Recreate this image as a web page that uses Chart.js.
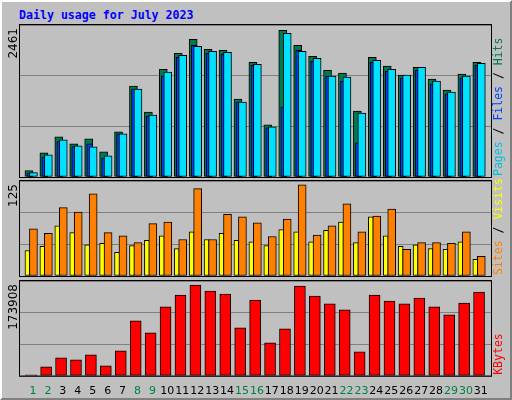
<!DOCTYPE html>
<html><head><meta charset="utf-8">
<script src="https://cdn.jsdelivr.net/npm/chart.js@4/dist/chart.umd.min.js"></script>
<style>
html,body{margin:0;padding:0;}
body{width:512px;height:400px;position:relative;background:#c0c0c0;overflow:hidden;}
#frame{position:absolute;left:0;top:0;width:508px;height:396px;border-left:2px solid #fff;border-top:2px solid #fff;border-right:2px solid #808080;border-bottom:2px solid #808080;}
#title{position:absolute;left:19px;top:8px;font:bold 11.6px "DejaVu Sans Mono",monospace;color:#0000ff;}
canvas{position:absolute;left:0;top:0;}
</style></head><body>
<div id="frame"></div>
<div id="title">Daily usage for July 2023</div>
<canvas id="c1" width="512" height="400"></canvas>
<canvas id="c2" width="512" height="400"></canvas>
<canvas id="c3" width="512" height="400"></canvas>
<script>
const days = [1,2,3,4,5,6,7,8,9,10,11,12,13,14,15,16,17,18,19,20,21,22,23,24,25,26,27,28,29,30,31];
const weekendDays = [1,2,8,9,15,16,22,23,29,30];
const hits  = [102,392,650,537,618,408,730,1471,1053,1745,2003,2229,2067,2051,1262,1858,843,2374,2132,1955,1729,1681,1069,1939,1794,1649,1777,1584,1407,1665,1858];
const files = [70,360,601,505,489,344,698,1423,1004,1697,1971,2116,2035,2019,1214,1826,811,2325,2035,1923,1632,1616,1036,1890,1745,1649,1777,1552,1375,1632,1842];
const pages = [64,317,575,494,537,306,698,1423,988,1638,1939,2132,2003,1987,1214,1810,795,1138,2051,1874,1632,1552,553,1858,1713,1600,1729,1504,1343,1600,1810];
const visits = [33.5,39,66,57,41,43,31,40,47,53,36,58,48,56,47,45,40,61,58,45,60,71,44,78,53,39,41,36,35,45,22];
const sites  = [62,56,90,84,108,57,53,44,69,71,48,115,48,81,78,70,52,75,120,54,66,95,58,79,88,35,44,44,43,58,26];
const kbytes = [2000,16475,32950,29290,38440,18300,45760,100680,78720,126300,148280,166580,155600,150100,87870,139120,60400,86040,164750,146450,131800,120820,43930,148280,137300,131800,142790,126300,111670,133630,153770];
const maxHits = 2461, maxSites = 125, maxKB = 173908;

const pts = (arr, off) => arr.map((v,i)=>({x:days[i]+off, y:v}));
const boxPlugin = {
  id:'box',
  afterDraw(chart){
    const {ctx, chartArea:a} = chart;
    ctx.save();
    ctx.strokeStyle='#000'; ctx.lineWidth=1;
    ctx.strokeRect(a.left-0.5, a.top-0.5, a.right-a.left+1, a.bottom-a.top+1);
    const o = chart.options.plugins.box;
    ctx.font = '12px "DejaVu Sans"';
    ctx.fillStyle='#000';
    ctx.translate(14, a.top+3);
    ctx.rotate(-Math.PI/2);
    ctx.textAlign='right'; ctx.textBaseline='middle';
    ctx.fillText(o.maxLabel, 0, 0);
    ctx.restore();
    ctx.save();
    ctx.font = '11.5px "DejaVu Sans Mono"';
    ctx.translate(499, a.bottom-1);
    ctx.rotate(-Math.PI/2);
    ctx.textAlign='left'; ctx.textBaseline='middle';
    let x=0;
    for(const [t,c] of o.parts){ ctx.fillStyle=c; ctx.fillText(t,x,0); x+=ctx.measureText(t).width; }
    ctx.restore();
  }
};
function yScale(max){
  return {min:0,max:max,display:true,
    ticks:{display:false},
    afterBuildTicks(s){ s.ticks=[0,max/3,2*max/3,max].map(v=>({value:v})); },
    grid:{color:'#808080',lineWidth:1,drawTicks:false},
    border:{display:false}};
}
function xScale(showTicks){
  const s = {type:'linear',offset:false,min:0.13,max:31.68,grid:{display:false,drawTicks:false},border:{display:false}};
  if(showTicks){
    s.display=true;
    s.afterBuildTicks = sc => { sc.ticks = days.map(d=>({value:d})); };
    s.ticks={autoSkip:false,maxRotation:0,minRotation:0,padding:9,font:{family:'DejaVu Sans',size:11},
      color:c=>weekendDays.includes(c.tick.value)?'#008040':'#000'};
  } else s.display=false;
  return s;
}
function mk(id, datasets, pad, max, maxLabel, parts, showX){
  new Chart(document.getElementById(id), {
    type:'bar',
    data:{datasets},
    options:{responsive:false,animation:false,
      layout:{padding:pad},
      plugins:{legend:{display:false},tooltip:{enabled:false},box:{maxLabel,parts}},
      scales:{x:xScale(showX), y:yScale(max)}},
    plugins:[boxPlugin]
  });
}
const bs = {borderColor:'#000',borderWidth:1,grouped:false,borderSkipped:false};
mk('c1',[
  {...bs,data:pts(files,0.03),backgroundColor:'#00e0ff',barThickness:8},
  {...bs,data:pts(pages,-0.2),backgroundColor:'#0040ff',barThickness:6},
  {...bs,data:pts(hits,-0.27),backgroundColor:'#007850',barThickness:8}
],{left:20,right:21,top:25,bottom:223},maxHits,'2461',
 [['Pages','#00c0e0'],[' / ','#000'],['Files','#0040ff'],[' / ','#000'],['Hits','#007850']],false);
mk('c2',[
  {...bs,data:pts(sites,0.03),backgroundColor:'#ff8000',barThickness:8},
  {...bs,data:pts(visits,-0.37),backgroundColor:'#ffff00',barThickness:5}
],{left:20,right:21,top:181,bottom:124},maxSites,'125',
 [['Sites','#ff8000'],[' / ','#000'],['Visits','#ffff00']],false);
mk('c3',[
  {...bs,data:pts(kbytes,-0.12),backgroundColor:'#ff0000',barThickness:11}
],{left:20,right:21,top:281,bottom:-7},maxKB,'173908',
 [['KBytes','#ff0000']],true);
</script>
</body></html>
